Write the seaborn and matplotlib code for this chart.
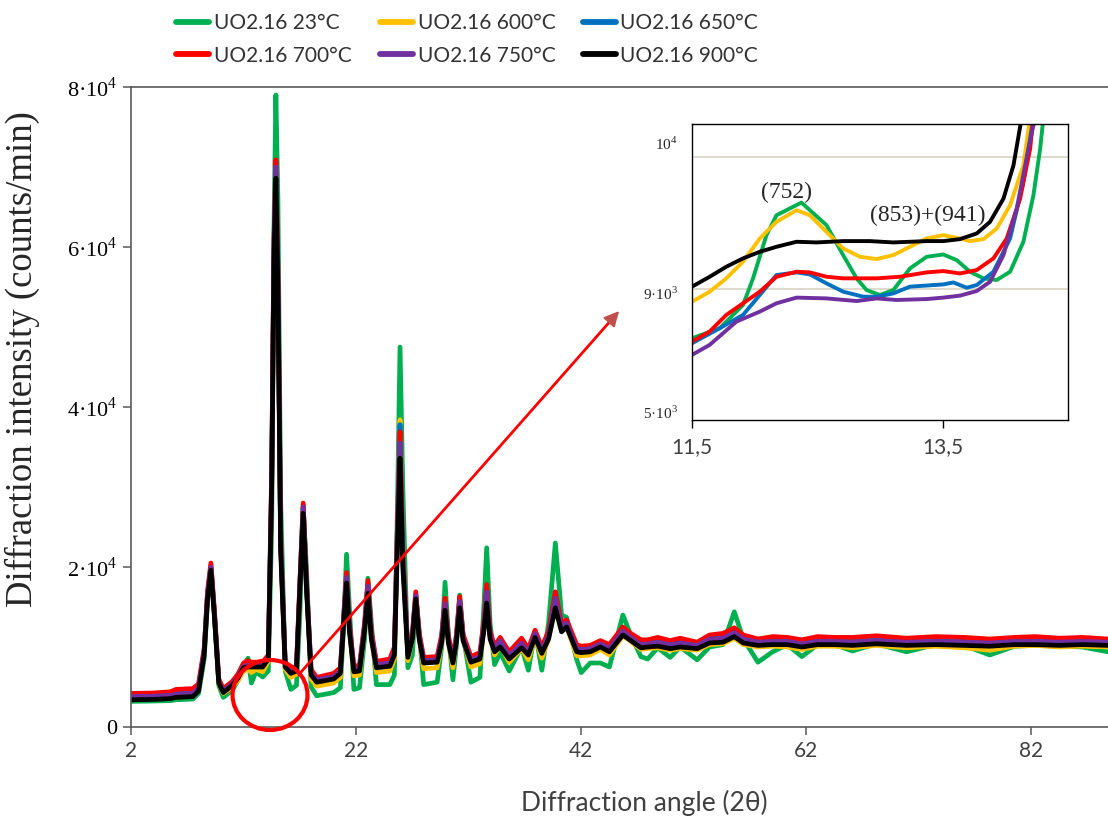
import pandas as pd
import matplotlib
matplotlib.use("Agg")
import matplotlib.pyplot as plt
import seaborn as sns
from matplotlib.lines import Line2D
from matplotlib.patches import Ellipse

sns.set_style("ticks")
plt.rcParams["font.family"] = ["Liberation Serif", "DejaVu Serif"]
plt.rcParams["mathtext.fontset"] = "custom"
plt.rcParams["mathtext.rm"] = "Liberation Serif"

SANS = ["Lato", "DejaVu Sans"]
SERIF = ["Liberation Serif", "DejaVu Serif"]

samples = ["UO2.16 23°C", "UO2.16 600°C", "UO2.16 650°C",
           "UO2.16 700°C", "UO2.16 750°C", "UO2.16 900°C"]
colors = ["#00B050", "#FFC000", "#0070C0", "#FF0000", "#7030A0", "#000000"]

# main pattern, 2theta (deg) and intensity (counts/min)
angle = [2.0, 4.0, 5.5, 6.0, 7.5, 8.0, 8.5, 8.8, 9.1, 9.4,
         9.8, 10.2, 11.0, 11.5, 12.0, 12.4, 12.7, 13.1, 13.7, 14.2,
         14.5, 14.7, 14.87, 15.05, 15.3, 15.7, 16.2, 16.7, 17.0, 17.3,
         17.6, 18.0, 18.5, 20.0, 20.6, 20.9, 21.15, 21.4, 21.8, 22.3,
         22.75, 23.05, 23.35, 23.8, 25.0, 25.4, 25.7, 25.9, 26.15, 26.6,
         27.0, 27.3, 27.6, 28.0, 29.2, 29.6, 29.9, 30.2, 30.6, 30.9,
         31.2, 31.5, 32.2, 33.0, 33.35, 33.6, 33.9, 34.3, 34.8, 35.6,
         36.7, 37.3, 37.9, 38.5, 39.1, 39.7, 40.25, 40.7, 41.6, 42.0,
         42.8, 43.7, 44.5, 45.7, 46.4, 47.3, 47.9, 48.8, 49.9, 50.8,
         52.3, 53.4, 54.6, 55.6, 56.4, 57.7, 59.0, 60.3, 61.6, 63.0,
         64.5, 66.1, 68.2, 70.9, 73.5, 76.0, 78.3, 80.5, 82.3, 84.5,
         86.5, 88.8]

i_23 = [3200, 3250, 3300, 3400, 3500, 4200, 8500, 15800, 19900, 14500,
        5200, 3700, 4600, 5800, 7600, 8600, 5500, 6900, 6250, 7000,
        25000, 62000, 79000, 66000, 28000, 7000, 4700, 5200, 14000, 27300,
        19500, 5000, 3900, 4300, 4900, 13000, 21600, 15000, 4700, 4900,
        11000, 18600, 13000, 5300, 5300, 6500, 30000, 47500, 30000, 7400,
        9000, 16300, 12000, 5300, 5600, 10000, 18100, 11500, 5900, 10000,
        16500, 11500, 5600, 6200, 15000, 22400, 13000, 7800, 9300, 7000,
        10000, 7100, 12000, 7100, 13000, 23000, 14000, 13700, 8400, 6800,
        8000, 8000, 7500, 14000, 11500, 8800, 8500, 9900, 8700, 10000,
        8400, 10000, 10300, 14400, 11000, 8100, 9400, 10300, 8800, 10300,
        10300, 9500, 10400, 9400, 10300, 10200, 9000, 10100, 10200, 10100,
        10000, 9400]
i_600 = [3500, 3550, 3650, 3800, 3900, 4600, 9200, 16300, 19900, 14200,
         5500, 4200, 5000, 5800, 7000, 7200, 6800, 7200, 6900, 8200,
         30000, 59500, 70300, 56500, 22500, 7200, 6200, 6600, 17200, 27500,
         17400, 6000, 5100, 5500, 6200, 13200, 18800, 12500, 6400, 6500,
         12200, 17800, 11400, 6800, 7000, 8500, 26500, 38400, 22500, 8300,
         11000, 16400, 11200, 7300, 7400, 10500, 15500, 10600, 7400, 10700,
         15800, 11000, 7500, 7900, 12500, 17000, 11300, 9000, 10200, 8100,
         9800, 8400, 11200, 8600, 11000, 16300, 12000, 12500, 8900, 8900,
         9000, 9700, 9000, 11400, 10700, 9700, 9800, 9900, 9600, 9800,
         9600, 10300, 10400, 11100, 10300, 10000, 10100, 10000, 9700, 10100,
         10100, 9900, 10200, 9900, 10100, 9900, 9600, 10100, 10200, 10000,
         10100, 10000]
i_650 = [3900, 3950, 4100, 4300, 4400, 5000, 9500, 16600, 20100, 14400,
         5800, 4600, 5500, 6400, 7700, 7800, 7700, 7800, 7800, 8700,
         31000, 60000, 70500, 57000, 23000, 7800, 7000, 7300, 17600, 27700,
         17600, 6900, 6000, 6400, 7100, 13600, 19000, 12700, 7300, 7400,
         12600, 18000, 11700, 7900, 8100, 9600, 26500, 37800, 22000, 9100,
         11500, 16600, 11500, 8400, 8500, 11200, 15700, 11000, 8400, 11100,
         16000, 11300, 8500, 8900, 12800, 17300, 11700, 9800, 10800, 9000,
         10600, 9400, 11800, 9600, 11600, 16500, 12600, 13100, 9900, 9800,
         9900, 10500, 9900, 12100, 11300, 10400, 10500, 10700, 10400, 10600,
         10300, 11100, 11200, 11900, 11100, 10700, 10800, 10800, 10500, 10800,
         10800, 10700, 10900, 10700, 10800, 10700, 10600, 10800, 10800, 10700,
         10800, 10700]
i_700 = [4200, 4250, 4400, 4700, 4800, 5400, 9800, 17000, 20500, 14800,
         6000, 4800, 5700, 6600, 8000, 8300, 8100, 8100, 8100, 9000,
         32000, 60500, 70900, 57500, 23500, 8000, 7300, 7600, 18000, 28000,
         18000, 7200, 6200, 6700, 7400, 14000, 19300, 13000, 7600, 7700,
         13000, 18300, 12000, 8200, 8500, 10000, 26500, 36900, 22000, 9300,
         11800, 16900, 11800, 8700, 8800, 11500, 16100, 11300, 8700, 11400,
         16300, 11600, 8800, 9300, 13200, 17800, 12000, 10100, 11200, 9400,
         11100, 9800, 12100, 10000, 12000, 16900, 13000, 13400, 10300, 10100,
         10200, 10800, 10300, 12500, 11700, 10900, 10900, 11200, 10800, 11100,
         10600, 11500, 11700, 12400, 11500, 11000, 11300, 11200, 10900, 11300,
         11200, 11200, 11400, 11100, 11300, 11200, 11000, 11200, 11300, 11100,
         11200, 11000]
i_750 = [3800, 3850, 3950, 4100, 4200, 4900, 9400, 16500, 20000, 14300,
         5700, 4500, 5400, 6300, 7600, 7700, 7600, 7700, 7700, 8600,
         30500, 59500, 70000, 56500, 22800, 7800, 6900, 7200, 17500, 27500,
         17500, 6800, 5900, 6300, 7000, 13500, 18700, 12500, 7200, 7300,
         12400, 17600, 11500, 7800, 8000, 9400, 25500, 35500, 21000, 9000,
         11300, 16400, 11300, 8300, 8400, 11000, 15400, 10800, 8300, 10900,
         15700, 11100, 8400, 8800, 12500, 16900, 11500, 9700, 10800, 8900,
         10500, 9300, 11700, 9500, 11500, 16100, 12400, 13000, 9800, 9700,
         9800, 10400, 9800, 12000, 11200, 10300, 10400, 10600, 10300, 10500,
         10200, 11000, 11100, 11800, 11000, 10600, 10700, 10700, 10400, 10700,
         10700, 10600, 10800, 10600, 10700, 10600, 10500, 10700, 10700, 10600,
         10700, 10600]
i_900 = [3400, 3450, 3550, 3700, 3800, 4500, 9000, 16000, 19600, 14000,
         5500, 4300, 5200, 6100, 7400, 7500, 7500, 7500, 7500, 8500,
         30000, 58000, 68600, 55000, 22000, 7500, 6700, 7000, 17000, 26700,
         17000, 6500, 5600, 6000, 6700, 13000, 18000, 12000, 6900, 7000,
         12000, 16700, 11000, 7400, 7600, 9000, 24000, 33600, 20000, 8700,
         11000, 16000, 11000, 8000, 8100, 10500, 14600, 10500, 8000, 10500,
         14900, 10800, 8100, 8500, 12000, 15500, 11000, 9400, 10000, 8500,
         9900, 9000, 11200, 9200, 11000, 14900, 11900, 12500, 9400, 9300,
         9400, 10000, 9400, 11500, 10800, 9900, 10000, 10100, 9800, 10000,
         9800, 10500, 10600, 11300, 10500, 10200, 10300, 10300, 10000, 10300,
         10300, 10200, 10400, 10200, 10300, 10200, 10100, 10300, 10300, 10200,
         10300, 10200]

# zoomed region 11.5-14.5 deg
zoom_x_23 = [11.5, 11.721, 11.907, 11.987, 12.094, 12.174, 12.373, 12.573, 12.706, 12.813,
             12.893, 12.999, 13.106, 13.239, 13.372, 13.505, 13.612, 13.718, 13.825, 13.931,
             14.038, 14.144, 14.224, 14.278, 14.304]
zoom_y_23 = [8627, 8703, 8879, 9081, 9408, 9559, 9655, 9484, 9257, 9081,
             8992, 8955, 8992, 9156, 9244, 9262, 9219, 9131, 9081, 9068,
             9131, 9358, 9710, 10063, 10300]
zoom_x_600 = [11.5, 11.641, 11.774, 11.907, 12.041, 12.174, 12.334, 12.44, 12.573, 12.706,
              12.84, 12.973, 13.106, 13.239, 13.372, 13.505, 13.638, 13.718, 13.825, 13.931,
              14.038, 14.144, 14.198]
zoom_y_600 = [8904, 8980, 9081, 9207, 9383, 9509, 9597, 9559, 9433, 9307,
              9244, 9227, 9257, 9320, 9383, 9408, 9383, 9363, 9378, 9458,
              9635, 9937, 10300]
zoom_x_650 = [11.5, 11.721, 11.907, 12.041, 12.174, 12.334, 12.44, 12.573, 12.706, 12.866,
              12.973, 13.106, 13.239, 13.505, 13.585, 13.692, 13.772, 13.905, 14.038, 14.144,
              14.224]
zoom_y_650 = [8589, 8703, 8804, 8955, 9106, 9126, 9111, 9043, 8980, 8942,
              8942, 8967, 9018, 9035, 9050, 9010, 9030, 9131, 9383, 9811,
              10300]
zoom_x_700 = [11.5, 11.641, 11.774, 11.907, 12.041, 12.174, 12.334, 12.44, 12.573, 12.706,
              12.973, 13.159, 13.372, 13.505, 13.638, 13.772, 13.905, 14.011, 14.118, 14.198,
              14.224]
zoom_y_700 = [8602, 8678, 8804, 8892, 8980, 9093, 9131, 9126, 9093, 9081,
              9081, 9093, 9126, 9136, 9118, 9144, 9232, 9383, 9685, 10063,
              10300]
zoom_x_750 = [11.5, 11.641, 11.854, 12.041, 12.174, 12.334, 12.573, 12.813, 12.973, 13.132,
              13.372, 13.505, 13.638, 13.772, 13.878, 13.985, 14.091, 14.184, 14.238]
zoom_y_750 = [8501, 8577, 8753, 8829, 8892, 8935, 8929, 8909, 8929, 8917,
              8924, 8935, 8950, 8985, 9055, 9257, 9610, 10063, 10300]
zoom_x_900 = [11.5, 11.641, 11.774, 11.907, 12.041, 12.174, 12.334, 12.493, 12.706, 12.919,
              13.106, 13.239, 13.372, 13.505, 13.638, 13.772, 13.878, 13.985, 14.065, 14.131]
zoom_y_900 = [9018, 9093, 9169, 9232, 9282, 9320, 9358, 9353, 9363, 9363,
              9353, 9358, 9363, 9363, 9378, 9421, 9509, 9685, 9937, 10300]

main_series = [i_23, i_600, i_650, i_700, i_750, i_900]
zoom_series = [(zoom_x_23, zoom_y_23), (zoom_x_600, zoom_y_600), (zoom_x_650, zoom_y_650),
               (zoom_x_700, zoom_y_700), (zoom_x_750, zoom_y_750), (zoom_x_900, zoom_y_900)]

df_main = pd.concat([pd.DataFrame({"angle": angle, "intensity": vals, "sample": s})
                     for s, vals in zip(samples, main_series)], ignore_index=True)
df_zoom = pd.concat([pd.DataFrame({"angle": zx, "intensity": zy, "sample": s})
                     for s, (zx, zy) in zip(samples, zoom_series)], ignore_index=True)
palette = dict(zip(samples, colors))

W, H = 1108, 824
fig = plt.figure(figsize=(W / 100, H / 100), dpi=100)
ax = fig.add_axes([131 / W, 97 / H, 1 - 131 / W, (727 - 87) / H])

sns.lineplot(data=df_main, x="angle", y="intensity", hue="sample", hue_order=samples,
             palette=palette, estimator=None, sort=False, linewidth=3.4, ax=ax, legend=False)
for ln in ax.get_lines():
    ln.set_solid_joinstyle("round")

ax.set_xlim(2, 88.8)
ax.set_ylim(0, 80000)
ax.set_xticks([2, 22, 42, 62, 82])
ax.set_xticklabels(["2", "22", "42", "62", "82"], family=SANS, fontsize=15, color="#404040")
ax.set_yticks([0, 20000, 40000, 60000, 80000])
ax.set_yticklabels(["0", "2·10$^4$", "4·10$^4$", "6·10$^4$", "8·10$^4$"],
                   family=SERIF, fontsize=16, color="black")
ax.set_xlabel("")
ax.set_ylabel("")
ax.tick_params(axis="both", direction="out", length=6, width=1.1, color="#595959", pad=4)
for side in ["left", "bottom", "top"]:
    ax.spines[side].set_color("#595959")
    ax.spines[side].set_linewidth(1.2)
ax.spines["right"].set_visible(False)

fig.text(644 / W, 1 - 803 / H, "Diffraction angle (2θ)", family=SANS, fontsize=19,
         color="#404040", ha="center", va="center")
fig.text(22 / W, 1 - 359 / H, "Diffraction intensity (counts/min)", family=SERIF,
         fontsize=26.5, rotation=90, ha="center", va="center")

# marked region and arrow to the zoom
ax.add_patch(Ellipse((14.35, 4000), width=6.66, height=8750, fill=False,
                     edgecolor="#FF0000", linewidth=3, clip_on=False, zorder=10))
ax.annotate("", xy=(610.8 / W, 1 - 320.5 / H), xycoords="figure fraction",
            xytext=(16.75, 6300), textcoords="data",
            arrowprops=dict(arrowstyle="-", color="#FF0000", lw=2), zorder=10)
ax.annotate("", xy=(621 / W, 1 - 309 / H), xycoords="figure fraction",
            xytext=(608 / W, 1 - 323.5 / H), textcoords="figure fraction",
            arrowprops=dict(arrowstyle="-|>,head_length=0.9,head_width=0.45",
                            color="#C0504D", lw=1.5), zorder=10)

# zoom panel
axin = fig.add_axes([692 / W, (824 - 420) / H, (1068 - 692) / W, (420 - 124) / H])
axin.set_facecolor("white")
axin.axhline(9000, color="#D9D3C1", lw=1.2, zorder=0)
axin.axhline(10000, color="#D9D3C1", lw=1.2, zorder=0)
sns.lineplot(data=df_zoom, x="angle", y="intensity", hue="sample", hue_order=samples,
             palette=palette, estimator=None, sort=False, linewidth=2.8, ax=axin, legend=False)
for ln in axin.get_lines():
    ln.set_solid_joinstyle("round")
axin.set_xlim(11.5, 14.5)
axin.set_ylim(8008, 10250)
axin.set_xticks([11.5, 13.5])
axin.set_xticklabels(["11,5", "13,5"], family=SANS, fontsize=15, color="#404040")
axin.set_yticks([8068, 8970, 10106])
axin.set_yticklabels(["5·10$^3$", "9·10$^3$", "10$^4$"], family=SERIF, fontsize=11)
axin.tick_params(axis="x", direction="out", length=6, width=1, color="black", pad=6)
axin.tick_params(axis="y", length=0, pad=10)
axin.set_xlabel("")
axin.set_ylabel("")
for side in axin.spines.values():
    side.set_color("black")
    side.set_linewidth(1)
axin.text(12.257, 9735, "(752)", family=SERIF, fontsize=17, ha="center", va="center")
axin.text(13.38, 9561, "(853)+(941)", family=SERIF, fontsize=17, ha="center", va="center")

# legend, three columns of two rows
cols = [(176, [0, 3]), (380, [1, 4]), (583, [2, 5])]
for x0, idx in cols:
    handles = [Line2D([0], [0], color=colors[i], lw=4.2) for i in idx]
    leg = fig.legend(handles, [samples[i] for i in idx], loc="upper left",
                     bbox_to_anchor=(x0 / W, 1 - 13 / H), frameon=False,
                     borderaxespad=0, borderpad=0, handlelength=1.6, handletextpad=0.2,
                     labelspacing=0.6, prop={"family": SANS, "size": 15})
    for t in leg.get_texts():
        t.set_color("#333333")

fig.savefig("out.png", dpi=100)
